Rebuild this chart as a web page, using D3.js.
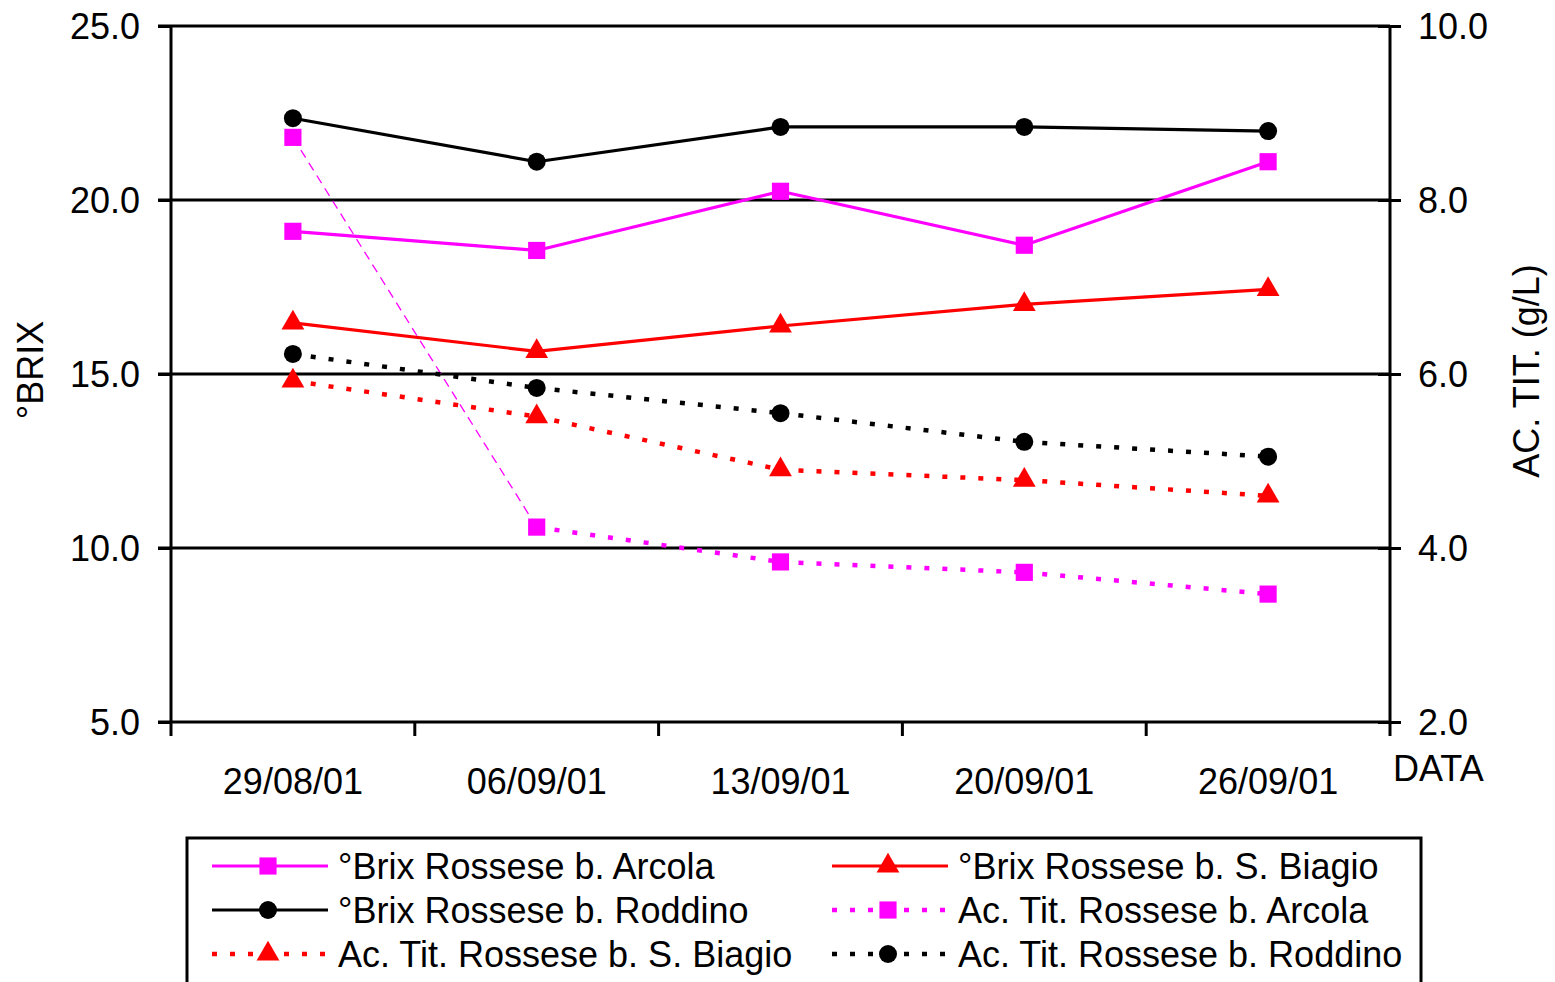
<!DOCTYPE html>
<html>
<head>
<meta charset="utf-8">
<script src="https://cdn.jsdelivr.net/npm/d3@7"></script>
<style>
  html, body { margin: 0; padding: 0; background: #fff; }
  svg text { font-family: "Liberation Sans", Arial, Helvetica, sans-serif; fill: #000; }
</style>
</head>
<body>
<svg id="chart" width="1555" height="982"></svg>
<script>
// Sampling dates (category axis)
const dates = ["29/08/01", "06/09/01", "13/09/01", "20/09/01", "26/09/01"];

// °Brix (left axis)
const brixArcola   = [19.1, 18.55, 20.25, 18.7, 21.1];
const brixBiagio   = [16.47, 15.65, 16.38, 17.0, 17.43];
const brixRoddino  = [22.35, 21.1, 22.1, 22.1, 21.98];

// Titratable acidity, g/L (right axis)
const acArcola  = [8.72, 4.24, 3.84, 3.72, 3.47];
const acBiagio  = [5.92, 5.51, 4.9, 4.78, 4.6];
const acRoddino = [6.23, 5.84, 5.55, 5.22, 5.05];

// Axis ticks
const leftTicks  = [5, 10, 15, 20, 25];
const rightTicks = [2, 4, 6, 8, 10];

const series = [
  { name: "°Brix Rossese b. Arcola",        values: brixArcola,  axis: "L", color: "#ff00ff", marker: "square",   dotted: false },
  { name: "°Brix Rossese b. S. Biagio",     values: brixBiagio,  axis: "L", color: "#ff0000", marker: "triangle", dotted: false },
  { name: "°Brix Rossese b. Roddino",       values: brixRoddino, axis: "L", color: "#000000", marker: "circle",   dotted: false },
  { name: "Ac. Tit. Rossese b. Arcola",     values: acArcola,    axis: "R", color: "#ff00ff", marker: "square",   dotted: true },
  { name: "Ac. Tit. Rossese b. S. Biagio",  values: acBiagio,    axis: "R", color: "#ff0000", marker: "triangle", dotted: true },
  { name: "Ac. Tit. Rossese b. Roddino",    values: acRoddino,   axis: "R", color: "#000000", marker: "circle",   dotted: true }
];

const plot = { left: 171, right: 1390, top: 26, bottom: 722 };
const svg = d3.select("#chart");

const x = d3.scaleBand().domain(dates).range([plot.left, plot.right]);
const yL = d3.scaleLinear().domain([5, 25]).range([plot.bottom, plot.top]);
const yR = d3.scaleLinear().domain([2, 10]).range([plot.bottom, plot.top]);
const cx = d => x(d) + x.bandwidth() / 2;

const symbols = {
  square:   d3.symbol().type(d3.symbolSquare).size(295),
  circle:   d3.symbol().type(d3.symbolCircle).size(255),
  triangle: d3.symbol().type(d3.symbolTriangle).size(225)
};

// Horizontal grid lines (including the bottom axis line)
svg.append("g").selectAll("line").data(leftTicks).join("line")
  .attr("x1", plot.left - 13).attr("x2", plot.right)
  .attr("y1", d => yL(d)).attr("y2", d => yL(d))
  .attr("stroke", "#000").attr("stroke-width", 3);

// Left axis
const gL = svg.append("g").attr("transform", `translate(${plot.left},0)`)
  .call(d3.axisLeft(yL).tickValues(leftTicks).tickFormat(d3.format(".1f")).tickSize(13).tickPadding(18));
gL.select(".domain").attr("stroke-width", 3).attr("d", `M0,${plot.top}V${plot.bottom}`);
gL.selectAll(".tick line").attr("stroke-width", 3);
gL.selectAll("text").style("font-size", "36px").attr("dy", "0.35em");

// Right axis
const gR = svg.append("g").attr("transform", `translate(${plot.right},0)`)
  .call(d3.axisRight(yR).tickValues(rightTicks).tickFormat(d3.format(".1f")).tickSize(11).tickPadding(17));
gR.select(".domain").attr("stroke-width", 3).attr("d", `M0,${plot.top}V${plot.bottom}`);
gR.selectAll(".tick line").attr("stroke-width", 3).attr("x1", -12);
gR.selectAll("text").style("font-size", "36px").attr("dy", "0.35em");

// Bottom axis: tick marks at category boundaries, labels centred in each band
const bounds = dates.map(d => x(d)).concat([plot.right]);
svg.append("g").selectAll("line").data(bounds).join("line")
  .attr("x1", d => d).attr("x2", d => d)
  .attr("y1", plot.bottom).attr("y2", plot.bottom + 14)
  .attr("stroke", "#000").attr("stroke-width", 3);
const gB = svg.append("g").attr("transform", `translate(0,${plot.bottom})`)
  .call(d3.axisBottom(x).tickSize(0).tickPadding(46));
gB.select(".domain").remove();
gB.selectAll("text").style("font-size", "36px");

// Axis titles
svg.append("text").attr("transform", "translate(43,370) rotate(-90)")
  .attr("text-anchor", "middle").style("font-size", "36px").text("°BRIX");
svg.append("text").attr("transform", "translate(1539,371) rotate(-90)")
  .attr("text-anchor", "middle").style("font-size", "36px").text("AC. TIT. (g/L)");
svg.append("text").attr("x", 1393).attr("y", 781)
  .style("font-size", "36px").text("DATA");

// Series lines
const DOT = "5,13";
series.forEach(s => {
  const y = s.axis === "L" ? yL : yR;
  const pts = s.values.map((v, i) => [cx(dates[i]), y(v)]);
  const g = svg.append("g");
  d3.pairs(pts).forEach(([a, b]) => {
    const steep = Math.abs(b[1] - a[1]) > 200;
    g.append("path")
      .attr("d", d3.line()([a, b]))
      .attr("fill", "none")
      .attr("stroke", s.color)
      .attr("stroke-width", s.dotted ? (steep ? 1.3 : 4.5) : 3.2)
      .attr("stroke-dasharray", s.dotted ? (steep ? "9,6" : DOT) : null);
  });
});

// Markers
series.forEach(s => {
  const y = s.axis === "L" ? yL : yR;
  svg.append("g").selectAll("path").data(s.values).join("path")
    .attr("transform", (v, i) => `translate(${cx(dates[i])},${y(v)})`)
    .attr("d", symbols[s.marker]())
    .attr("fill", s.color);
});

// Legend
const legend = svg.append("g");
legend.append("rect").attr("x", 187).attr("y", 838).attr("width", 1234).attr("height", 170)
  .attr("fill", "none").attr("stroke", "#000").attr("stroke-width", 3);
const cols = [212, 832];
const rows = [866, 910, 954];
series.forEach((s, i) => {
  const col = cols[i % 2], row = rows[Math.floor(i / 2)];
  const item = legend.append("g").attr("transform", `translate(${col},${row})`);
  item.append("line").attr("x1", 0).attr("x2", 116).attr("y1", 0).attr("y2", 0)
    .attr("stroke", s.color).attr("stroke-width", s.dotted ? 4.5 : 3.2)
    .attr("stroke-dasharray", s.dotted ? DOT : null);
  item.append("path").attr("transform", "translate(56,0)")
    .attr("d", symbols[s.marker]()).attr("fill", s.color);
  item.append("text").attr("x", 126).attr("y", 13).style("font-size", "36px").text(s.name);
});
</script>
</body>
</html>
